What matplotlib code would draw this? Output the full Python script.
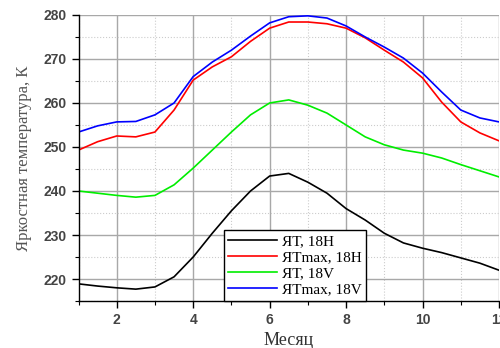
import matplotlib
matplotlib.use("Agg")
import matplotlib.pyplot as plt
from matplotlib.ticker import MultipleLocator

months = [1, 1.5, 2, 2.5, 3, 3.5, 4, 4.5, 5, 5.5, 6, 6.5, 7, 7.5, 8, 8.5, 9, 9.5, 10, 10.5, 11, 11.5, 12]
yt_18h = [218.9, 218.4, 218.0, 217.7, 218.2, 220.5, 225.0, 230.4, 235.5, 240.0, 243.4, 244.0, 242.0, 239.5,
          236.0, 233.4, 230.4, 228.2, 227.0, 226.0, 224.8, 223.6, 222.0]
ytmax_18h = [249.3, 251.2, 252.5, 252.3, 253.4, 258.4, 265.2, 268.2, 270.5, 274.0, 277.0, 278.4, 278.4, 278.0,
             277.0, 274.8, 272.0, 269.3, 265.7, 260.2, 255.7, 253.2, 251.4]
yt_18v = [240.0, 239.5, 239.0, 238.6, 239.0, 241.4, 245.2, 249.3, 253.4, 257.3, 260.0, 260.7, 259.5, 257.7,
          255.0, 252.3, 250.5, 249.3, 248.6, 247.5, 246.0, 244.6, 243.2]
ytmax_18v = [253.4, 254.8, 255.7, 255.8, 257.3, 260.0, 266.0, 269.3, 272.0, 275.2, 278.2, 279.6, 279.8, 279.3,
             277.5, 275.0, 272.7, 270.2, 266.8, 262.5, 258.4, 256.6, 255.7]
labels = ["ЯТ, 18H", "ЯТmax, 18H", "ЯТ, 18V", "ЯТmax, 18V"]
colors = ["black", "red", "#00ee00", "blue"]

fig = plt.figure(figsize=(5, 3.48), dpi=100)
ax = fig.add_axes([0.157, 0.135, 0.841, 0.822])

for ys, lab, c in zip([yt_18h, ytmax_18h, yt_18v, ytmax_18v], labels, colors):
    ax.plot(months, ys, color=c, lw=1.2, label=lab)

ax.set_xlim(1, 12)
ax.set_ylim(215, 280)
ax.xaxis.set_major_locator(MultipleLocator(2))
ax.xaxis.set_minor_locator(MultipleLocator(1))
ax.yaxis.set_major_locator(MultipleLocator(10))
ax.yaxis.set_minor_locator(MultipleLocator(5))
ax.grid(which="major", color="#a8a8a8", lw=1.0, ls="-")
ax.grid(which="minor", color="#cccccc", lw=0.8, ls=":")
ax.set_axisbelow(True)
for s in ["top", "right"]:
    ax.spines[s].set_visible(False)
for s in ["left", "bottom"]:
    ax.spines[s].set_linewidth(1.0)
ax.tick_params(which="major", length=5, width=1.0, direction="out", labelsize=10, colors="black",
               labelcolor="#444444")
ax.tick_params(which="minor", length=3, width=0.8, direction="out")
for t in ax.get_xticklabels() + ax.get_yticklabels():
    t.set_family("Liberation Sans")
    t.set_fontweight("bold")

ax.set_xlabel("Месяц", family="Liberation Serif", fontsize=13, color="#333333", labelpad=4)
ax.set_ylabel("Яркостная температура, К", family="Liberation Serif", fontsize=12, color="#555555", labelpad=8)

leg = ax.legend(loc="lower right", bbox_to_anchor=(0.684, 0.0), borderaxespad=0,
                prop={"family": "Liberation Serif", "size": 11}, fancybox=False, framealpha=1,
                edgecolor="black", handlelength=3.2, labelspacing=0.15, borderpad=0.3, handletextpad=0.3)
leg.get_frame().set_linewidth(1.0)

fig.savefig("out.png", dpi=100)
